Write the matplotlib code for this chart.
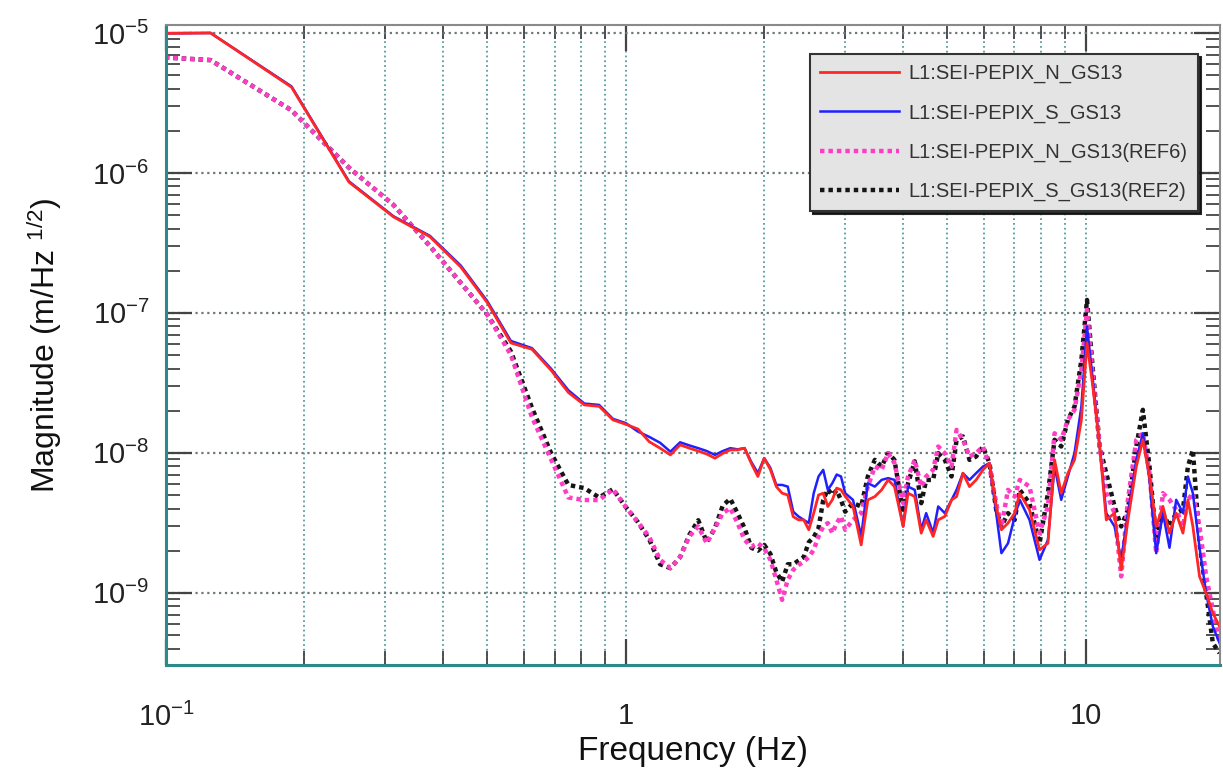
import matplotlib.pyplot as plt
from matplotlib.ticker import FixedLocator, FixedFormatter, NullFormatter

plt.rcParams['font.family'] = ['Liberation Sans', 'DejaVu Sans']
plt.rcParams['mathtext.fontset'] = 'custom'
plt.rcParams['mathtext.rm'] = 'Liberation Sans'
plt.rcParams['mathtext.it'] = 'Liberation Sans:italic'
plt.rcParams['mathtext.bf'] = 'Liberation Sans:bold'

# frequency points (Hz)
freq = [0.0625, 0.125, 0.1875, 0.25, 0.3125, 0.375, 0.4375, 0.5, 0.5625, 0.625,
        0.6875, 0.75, 0.8125, 0.875, 0.9375, 1.0, 1.0625, 1.125, 1.1875, 1.25,
        1.3125, 1.375, 1.4375, 1.5, 1.5625, 1.625, 1.6875, 1.75, 1.8125, 1.875,
        1.9375, 2.0, 2.0625, 2.125, 2.1875, 2.25, 2.3125, 2.375, 2.4375, 2.5,
        2.5625, 2.625, 2.6875, 2.75, 2.8125, 2.875, 2.9375, 3.0,
        3.12, 3.25, 3.36, 3.48, 3.60, 3.72, 3.84, 4.01, 4.11, 4.25, 4.39, 4.50,
        4.66, 4.78, 4.94, 5.11, 5.24, 5.41, 5.59, 5.78, 5.98, 6.18, 6.39, 6.56,
        6.78, 7.01,
        7.19, 7.55, 7.94, 8.28, 8.56, 8.85, 9.15, 9.46, 9.79, 10.07, 10.37, 10.73,
        11.09, 11.56, 11.95, 12.36, 12.89, 13.32, 13.77, 14.24, 14.73, 15.22,
        15.74, 16.28, 16.69, 17.11, 17.69, 18.29, 18.91, 19.56]

# magnitudes in nm/Hz^1/2
n_gs13 = [9800, 10000, 4100, 860, 485, 350, 213, 118, 61, 55,
          39, 27, 22, 21.5, 17.2, 16, 14.8, 12, 10.8, 9.67,
          11.4, 10.8, 10.3, 9.8, 9.16, 9.9, 10.5, 10.5, 10.8, 8.4,
          6.78, 9.16, 7.6, 5.74, 5.15, 5.0, 3.5, 3.32, 3.32, 2.82,
          3.71, 5.0, 5.15, 4.14, 4.61, 5.6, 5.44, 4.9,
          4.14, 2.20, 4.61, 4.87, 5.44, 6.41, 5.74, 2.98, 5.15, 4.87, 2.67, 3.32,
          2.53, 3.32, 3.51, 4.61, 4.87, 7.16, 5.74, 6.41, 7.56, 8.44, 4.14, 2.82,
          3.15, 3.71,
          5.15, 3.92, 2.03, 2.26, 8.91, 5.15, 7.16, 8.91, 17.2, 61, 29.8, 11.1,
          3.32, 3.71, 1.46, 3.32, 7.99, 12.4, 6.78, 2.98, 4.14, 2.67,
          3.71, 2.67, 4.62, 2.98, 1.31, 0.99, 0.716, 0.575]

s_gs13 = [9800, 10000, 4150, 870, 490, 355, 218, 121, 63, 56,
          40, 28, 22.5, 22, 17.5, 16.3, 14.2, 13, 11.8, 10.2,
          11.9, 11.3, 10.8, 10.3, 9.67, 10.3, 10.8, 10.6, 10.8, 8.6,
          7.16, 9.16, 7.8, 5.9, 5.9, 5.74, 3.8, 3.51, 3.32, 3.15,
          5.15, 6.78, 7.56, 5.44, 6.07, 7.0, 6.78, 5.15,
          4.61, 2.53, 6.07, 5.74, 6.41, 6.6, 6.41, 2.98, 5.74, 5.44, 2.82, 3.71,
          2.67, 4.14, 3.71, 4.61, 5.44, 7.16, 6.41, 7.16, 7.98, 8.44, 3.71, 1.92,
          2.26, 3.51,
          4.62, 3.32, 1.72, 2.39, 7.99, 4.62, 6.78, 10.0, 21.4, 79.9, 33, 11.1,
          3.71, 2.98, 1.72, 3.71, 8.91, 13.8, 6.41, 1.92, 3.71, 2.1,
          4.62, 3.71, 6.78, 5.15, 2.1, 0.99, 0.575, 0.437]

n_ref6 = [7300, 6400, 2800, 1090, 590, 300, 164, 97, 50, 18,
          9, 4.8, 4.6, 4.6, 5.5, 4.1, 3.2, 2.5, 1.72, 1.5,
          1.8, 2.53, 2.98, 2.26, 2.9, 3.71, 4.03, 3.15, 2.39, 2.14,
          2.26, 2.08, 1.72, 1.24, 0.89, 1.24, 1.46, 1.58, 1.67, 1.8,
          2.03, 2.53, 2.98, 3.15, 2.67, 3.15, 3.51, 2.82,
          3.32, 3.71, 5.74, 7.98, 7.56, 9.95, 8.44, 4.37, 6.78, 8.91, 5.74, 6.78,
          7.56, 11.1, 9.95, 7.98, 14.6, 12.4, 9.42, 9.95, 11.1, 7.98, 4.37, 2.98,
          5.44, 4.87,
          6.41, 5.75, 2.67, 4.14, 13.8, 12.4, 17.2, 20.3, 39.2, 105, 35.1, 11.1,
          5.15, 3.71, 1.31, 4.62, 12.4, 13.8, 7.16, 1.92, 5.15, 4.62,
          3.92, 2.98, 4.62, 5.15, 2.98, 1.31, 0.756, 0.437]

s_ref2 = [7300, 6400, 2800, 1090, 590, 300, 164, 97, 53, 21,
          10, 5.9, 5.6, 4.8, 5.5, 4.1, 3.2, 2.4, 1.6, 1.5,
          1.8, 2.6, 3.3, 2.3, 2.9, 4.2, 4.7, 3.7, 2.9, 2.1,
          2.0, 2.2, 1.9, 1.4, 1.2, 1.6, 1.6, 1.7, 1.8, 2.3,
          2.5, 2.9, 4.6, 5.5, 5.0, 5.4, 4.6, 3.8,
          4.37, 4.14, 6.78, 8.91, 7.98, 9.95, 8.91, 3.71, 6.07, 8.7, 4.37, 6.41,
          6.41, 9.95, 8.91, 6.78, 12.4, 13.1, 8.91, 9.42, 11.1, 8.44, 3.92, 2.98,
          3.71, 3.32,
          5.44, 4.37, 2.26, 5.15, 12.4, 11.1, 17.2, 21.4, 46.2, 123.8, 39.2, 11.1,
          7.16, 4.14, 2.98, 3.92, 11.1, 20.3, 7.99, 2.39, 3.71, 2.98,
          3.71, 3.92, 7.99, 10.5, 2.26, 0.99, 0.437, 0.371]

names = ['L1:SEI-PEPIX_N_GS13', 'L1:SEI-PEPIX_S_GS13',
         'L1:SEI-PEPIX_N_GS13(REF6)', 'L1:SEI-PEPIX_S_GS13(REF2)']

x_major = [0.1, 1, 10]
x_major_labels = [r'$\mathregular{10^{-1}}$', '1', '10']
y_major = [1e-9, 1e-8, 1e-7, 1e-6, 1e-5]
y_major_labels = [r'$\mathregular{10^{-9}}$', r'$\mathregular{10^{-8}}$',
                  r'$\mathregular{10^{-7}}$', r'$\mathregular{10^{-6}}$',
                  r'$\mathregular{10^{-5}}$']

nano = 1e-9

fig = plt.figure(figsize=(12.23, 7.70), dpi=100)
ax = fig.add_axes([166 / 1223, 1 - 665 / 770, (1220 - 166) / 1223, (665 - 25) / 770])

dots = (0, (1, 0.9))
l4, = ax.plot(freq, [v * nano for v in s_ref2], color='#151515', lw=3.2, ls=dots)
l3, = ax.plot(freq, [v * nano for v in n_ref6], color='#ff3cc4', lw=3.2, ls=dots)
l2, = ax.plot(freq, [v * nano for v in s_gs13], color='#2020ff', lw=1.8)
l1, = ax.plot(freq, [v * nano for v in n_gs13], color='#ff2626', lw=2.0)

ax.set_xscale('log')
ax.set_yscale('log')
ax.set_xlim(0.1, 19.6)
ax.set_ylim(3.05e-10, 1.14e-5)

ax.xaxis.set_major_locator(FixedLocator(x_major))
ax.xaxis.set_major_formatter(FixedFormatter(x_major_labels))
ax.xaxis.set_minor_locator(FixedLocator([m * d for d in (0.1, 1, 10) for m in range(2, 10)]))
ax.xaxis.set_minor_formatter(NullFormatter())
ax.yaxis.set_major_locator(FixedLocator(y_major))
ax.yaxis.set_major_formatter(FixedFormatter(y_major_labels))
ax.yaxis.set_minor_locator(FixedLocator([m * d for d in (1e-10, 1e-9, 1e-8, 1e-7, 1e-6, 1e-5)
                                         for m in range(2, 10)]))
ax.yaxis.set_minor_formatter(NullFormatter())

ax.grid(True, which='both', axis='x', ls=':', color='#5a9c9c', lw=1.3)
ax.grid(True, which='major', axis='y', ls=':', color='#6e7878', lw=1.6)

ax.tick_params(which='both', direction='in', top=True, right=True, color='#444444',
               labelsize=21, labelcolor='#222222')
ax.tick_params(which='major', length=19, width=1.6)
ax.tick_params(which='minor', length=10, width=1.3)
ax.tick_params(axis='x', which='major', pad=27)
ax.tick_params(axis='y', which='major', pad=12)

for side in ('left', 'bottom'):
    ax.spines[side].set_color('#2d8a8a')
    ax.spines[side].set_linewidth(2.2)
for side in ('top', 'right'):
    ax.spines[side].set_color('#8a8a8a')
    ax.spines[side].set_linewidth(1.5)

ax.set_xlabel('Frequency (Hz)', fontsize=24, color='#111111', labelpad=3)
ax.set_ylabel(r'Magnitude (m/Hz $^{\mathregular{1/2}}$)', fontsize=23, color='#111111',
              labelpad=20)

leg = ax.legend([l1, l2, l3, l4], names, loc='upper right', bbox_to_anchor=(0.979, 0.955),
                borderaxespad=0, fontsize=14.5, handlelength=3.9, handletextpad=0.5,
                labelspacing=1.0, borderpad=0.5, fancybox=False, framealpha=1,
                shadow={'color': '#111111', 'alpha': 0.9})
leg.get_frame().set_facecolor('#e4e4e4')
leg.get_frame().set_edgecolor('#333333')
leg.get_frame().set_linewidth(1.5)
for t in leg.get_texts():
    t.set_color('#333333')

fig.savefig('out.png', dpi=100)
